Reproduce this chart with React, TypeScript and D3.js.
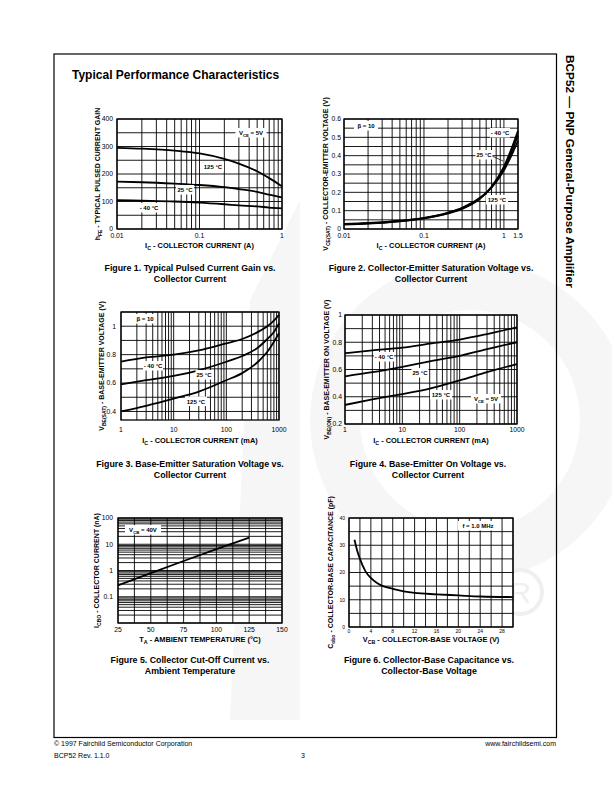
import React from "react";
import * as d3 from "d3";

// ---------- DATA ----------
// Figure 1: hFE vs Ic (A)
const f1X = [0.01, 0.02, 0.05, 0.1, 0.2, 0.3, 0.5, 0.7, 1];
const f1_125 = [295, 292, 285, 275, 255, 238, 210, 185, 155];
const f1_25 = [172, 170, 165, 160, 152, 145, 135, 125, 115];
const f1_m40 = [105, 103, 100, 96, 90, 86, 82, 78, 75];
const f1YTicks = [0, 100, 200, 300, 400];
const f1XTicks = [0.01, 0.1, 1];

// Figure 2: VCE(sat) vs Ic (A)
const f2X = [0.01, 0.02, 0.05, 0.1, 0.2, 0.3, 0.5, 0.7, 1, 1.3, 1.5];
const f2_m40 = [0.025, 0.03, 0.042, 0.058, 0.085, 0.11, 0.165, 0.23, 0.34, 0.46, 0.535];
const f2_25 = [0.026, 0.031, 0.043, 0.059, 0.087, 0.113, 0.168, 0.228, 0.33, 0.44, 0.51];
const f2_125 = [0.028, 0.033, 0.045, 0.061, 0.09, 0.116, 0.17, 0.225, 0.32, 0.42, 0.48];
const f2YTicks = [0, 0.1, 0.2, 0.3, 0.4, 0.5, 0.6];
const f2XTicks = [0.01, 0.1, 1, 1.5];

// Figure 3: VBE(sat) vs Ic (mA)
const f3X = [1, 3, 10, 30, 100, 200, 400, 600, 800, 1000];
const f3_m40 = [0.75, 0.78, 0.8, 0.83, 0.88, 0.91, 0.96, 1.0, 1.04, 1.08];
const f3_25 = [0.59, 0.62, 0.65, 0.69, 0.75, 0.79, 0.85, 0.91, 0.96, 1.02];
const f3_125 = [0.4, 0.44, 0.49, 0.54, 0.62, 0.67, 0.75, 0.82, 0.89, 0.95];
const f3YTicks = [0.4, 0.6, 0.8, 1];
const f3XTicks = [1, 10, 100, 1000];

// Figure 4: VBE(on) vs Ic (mA)
const f4X = [1, 3, 10, 30, 100, 300, 1000];
const f4_m40 = [0.72, 0.74, 0.76, 0.79, 0.82, 0.86, 0.91];
const f4_25 = [0.55, 0.58, 0.62, 0.66, 0.7, 0.75, 0.8];
const f4_125 = [0.34, 0.38, 0.42, 0.46, 0.52, 0.58, 0.64];
const f4YTicks = [0.2, 0.4, 0.6, 0.8, 1];
const f4XTicks = [1, 10, 100, 1000];

// Figure 5: ICBO vs TA
const f5X = [25, 50, 75, 100, 125];
const f5Y = [0.27, 0.8, 2.3, 6.5, 18];
const f5YTicks = [0.1, 1, 10, 100];
const f5XTicks = [25, 50, 75, 100, 125, 150];

// Figure 6: Cobo vs VCB
const f6X = [1, 1.5, 2, 3, 4, 5, 6, 8, 10, 12, 16, 20, 24, 30];
const f6Y = [32, 28, 25, 20.5, 18, 16.3, 15.2, 14, 13.1, 12.5, 12, 11.6, 11.2, 11];
const f6YTicks = [0, 10, 20, 30, 40];
const f6XTicks = [0, 4, 8, 12, 16, 20, 24, 28];

const captions = [
  ["Figure 1. Typical Pulsed Current Gain vs.", "Collector Current"],
  ["Figure 2. Collector-Emitter Saturation Voltage vs.", "Collector Current"],
  ["Figure 3. Base-Emitter Saturation Voltage vs.", "Collector Current"],
  ["Figure 4. Base-Emitter On Voltage vs.", "Collector Current"],
  ["Figure 5. Collector Cut-Off Current vs.", "Ambient Temperature"],
  ["Figure 6. Collector-Base Capacitance vs.", "Collector-Base Voltage"],
];

const FONT = "'Liberation Sans', Arial, Helvetica, sans-serif";

function logGrid(min: number, max: number): number[] {
  const out: number[] = [];
  let dec = Math.pow(10, Math.floor(Math.log10(min) + 1e-9));
  while (dec <= max) {
    for (let k = 1; k <= 9; k++) {
      const v = k * dec;
      if (v >= min - 1e-12 && v <= max + 1e-12) out.push(v);
    }
    dec *= 10;
  }
  return out;
}
function linGrid(min: number, max: number, step: number): number[] {
  const out: number[] = [];
  const n = Math.round((max - min) / step);
  for (let i = 0; i <= n; i++) out.push(min + i * step);
  return out;
}

// text with optional subscript: [main, sub, rest]
function SubText({ parts, fs }: { parts: string[]; fs: number }) {
  const sub = fs * 0.72;
  const dd = fs * 0.28;
  return (
    <>
      <tspan>{parts[0]}</tspan>
      {parts[1] ? (
        <tspan fontSize={sub} dy={dd}>
          {parts[1]}
        </tspan>
      ) : null}
      {parts[2] ? <tspan dy={parts[1] ? -dd : 0}>{parts[2]}</tspan> : null}
    </>
  );
}

type Lbl = { x: number; y: number; parts: string[]; w: number };

function Label({ x, y, parts, w }: Lbl) {
  return (
    <g>
      <rect x={x - w / 2} y={y - 5} width={w} height={9.5} fill="#fff" />
      <text x={x} y={y + 2.3} fontSize={6} fontWeight="bold" textAnchor="middle" fontFamily={FONT}>
        <SubText parts={parts} fs={6} />
      </text>
    </g>
  );
}

function Chart(props: {
  x: any;
  y: any;
  xGrid: number[];
  yGrid: number[];
  xTicks: number[];
  yTicks: number[];
  xFmt?: (v: number) => string;
  yFmt?: (v: number) => string;
  series: { xs: number[]; ys: number[] }[];
  yTitle: string[];
  yTitleX: number;
  xTitle: string[];
  xTitleY: number;
  labels: Lbl[];
  tickY: number;
  tickX: number;
  tickFs?: number;
  extra?: any;
}) {
  const { x, y } = props;
  const [x0, x1] = x.range();
  const [y0, y1] = y.range();
  const line = d3
    .line<[number, number]>()
    .x((d) => x(d[0]))
    .y((d) => y(d[1]))
    .curve(d3.curveMonotoneX);
  const cy = (y0 + y1) / 2;
  const cx = (x0 + x1) / 2;
  const xf = props.xFmt || ((v: number) => String(v));
  const yf = props.yFmt || ((v: number) => String(v));
  const tfs = props.tickFs || 6.8;
  return (
    <g fontFamily={FONT}>
      <rect x={x0} y={y1} width={x1 - x0} height={y0 - y1} fill="#fff" />
      {props.xGrid.map((v, i) => (
        <line key={"gx" + i} x1={x(v)} x2={x(v)} y1={y0} y2={y1} stroke="#000" strokeWidth={0.9} />
      ))}
      {props.yGrid.map((v, i) => (
        <line key={"gy" + i} x1={x0} x2={x1} y1={y(v)} y2={y(v)} stroke="#000" strokeWidth={0.9} />
      ))}
      <rect x={x0} y={y1} width={x1 - x0} height={y0 - y1} fill="none" stroke="#000" strokeWidth={1.3} />
      {props.series.map((s, i) => (
        <path
          key={"s" + i}
          d={line(s.xs.map((v, j) => [v, s.ys[j]] as [number, number])) || ""}
          fill="none"
          stroke="#000"
          strokeWidth={1.8}
        />
      ))}
      {props.extra}
      {props.labels.map((l, i) => (
        <Label key={"l" + i} {...l} />
      ))}
      {props.xTicks.map((v, i) => (
        <text key={"tx" + i} x={x(v)} y={props.tickY} fontSize={tfs} textAnchor="middle">
          {xf(v)}
        </text>
      ))}
      {props.yTicks.map((v, i) => (
        <text key={"ty" + i} x={props.tickX} y={y(v) + tfs * 0.35} fontSize={tfs} textAnchor="end">
          {yf(v)}
        </text>
      ))}
      <text
        transform={`translate(${props.yTitleX},${cy}) rotate(-90)`}
        fontSize={7}
        fontWeight="bold"
        textAnchor="middle"
      >
        <SubText parts={props.yTitle} fs={7} />
      </text>
      <text x={cx} y={props.xTitleY} fontSize={7.4} fontWeight="bold" textAnchor="middle">
        <SubText parts={props.xTitle} fs={7.4} />
      </text>
    </g>
  );
}

function Caption({ cx, y, lines }: { cx: number; y: number; lines: string[] }) {
  return (
    <text x={cx} y={y} fontSize={8.8} fontWeight="bold" textAnchor="middle" fontFamily={FONT}>
      <tspan x={cx}>{lines[0]}</tspan>
      <tspan x={cx} dy={11}>
        {lines[1]}
      </tspan>
    </text>
  );
}

export default function App() {
  // Scales
  const x1 = d3.scaleLog().domain([0.01, 1]).range([117, 282]);
  const y1 = d3.scaleLinear().domain([0, 400]).range([229, 119]);
  const x2 = d3.scaleLog().domain([0.01, 1.5]).range([344, 518]);
  const y2 = d3.scaleLinear().domain([0, 0.6]).range([229, 119]);
  const x3 = d3.scaleLog().domain([1, 1000]).range([121, 279]);
  const y3 = d3.scaleLinear().domain([0.34, 1.1]).range([420, 312]);
  const x4 = d3.scaleLog().domain([1, 1000]).range([345, 517]);
  const y4 = d3.scaleLinear().domain([0.2, 1]).range([424, 315]);
  const x5 = d3.scaleLinear().domain([25, 150]).range([118, 282]);
  const y5 = d3.scaleLog().domain([0.01, 100]).range([623, 518]);
  const x6 = d3.scaleLinear().domain([0, 30]).range([349, 513]);
  const y6 = d3.scaleLinear().domain([0, 40]).range([627, 518]);

  const deg = "\u00B0C";

  return (
    <svg
      width={612}
      height={792}
      viewBox="0 0 612 792"
      style={{ position: "absolute", left: 0, top: 0, background: "#fff" }}
    >
      <rect x={0} y={0} width={612} height={792} fill="#fff" />
      {/* watermark */}
      <g fill="#f6f6f6">
        <path d="M250 300 L300 200 L300 720 L230 720 Z" />
        <circle cx={470} cy={420} r={160} />
        <circle cx={470} cy={420} r={110} fill="#fff" />
        <circle cx={520} cy={592} r={22} fill="none" stroke="#efefef" strokeWidth={4} />
        <text x={520} y={603} fontSize={30} textAnchor="middle" fill="#efefef" fontFamily={FONT}>
          R
        </text>
      </g>
      {/* page frame */}
      <rect x={54} y={54} width={502.5} height={683.5} fill="none" stroke="#000" strokeWidth={1.2} />
      <text x={72} y={79} fontSize={12} fontWeight="bold" fontFamily={FONT}>
        Typical Performance Characteristics
      </text>
      <text
        transform="translate(566,55) rotate(90)"
        fontSize={11.8}
        fontWeight="bold"
        fontFamily={FONT}
      >
        BCP52 — PNP General-Purpose Amplifier
      </text>

      <Chart
        x={x1}
        y={y1}
        xGrid={logGrid(0.01, 1)}
        yGrid={linGrid(0, 400, 50)}
        xTicks={f1XTicks}
        yTicks={f1YTicks}
        series={[
          { xs: f1X, ys: f1_125 },
          { xs: f1X, ys: f1_25 },
          { xs: f1X, ys: f1_m40 },
        ]}
        yTitle={["h", "FE", " - TYPICAL PULSED CURRENT GAIN"]}
        yTitleX={100}
        xTitle={["I", "C", " - COLLECTOR CURRENT  (A)"]}
        xTitleY={248}
        tickY={238}
        tickX={113}
        labels={[
          { x: 251, y: 133, parts: ["V", "CE", " = 5V"], w: 31 },
          { x: 213, y: 167, parts: ["125 " + deg], w: 22 },
          { x: 185, y: 190, parts: ["25 " + deg], w: 18 },
          { x: 149, y: 208, parts: ["- 40 " + deg], w: 20 },
        ]}
      />

      <Chart
        x={x2}
        y={y2}
        xGrid={logGrid(0.01, 1).concat([1.5])}
        yGrid={linGrid(0, 0.6, 0.05)}
        xTicks={f2XTicks}
        yTicks={f2YTicks}
        series={[
          { xs: f2X, ys: f2_m40 },
          { xs: f2X, ys: f2_25 },
          { xs: f2X, ys: f2_125 },
        ]}
        yTitle={["V", "CE(SAT)", " - COLLECTOR-EMITTER VOLTAGE (V)"]}
        yTitleX={328}
        xTitle={["I", "C", " - COLLECTOR CURRENT  (A)"]}
        xTitleY={248}
        tickY={238}
        tickX={341}
        labels={[
          { x: 366, y: 126, parts: ["\u03B2 = 10"], w: 24 },
          { x: 500, y: 133, parts: ["- 40 " + deg], w: 20 },
          { x: 484, y: 155, parts: ["25 " + deg], w: 17 },
          { x: 497, y: 200, parts: ["125 " + deg], w: 22 },
        ]}
        extra={<line x1={492} y1={156} x2={503} y2={161} stroke="#000" strokeWidth={0.7} />}
      />

      <Chart
        x={x3}
        y={y3}
        xGrid={logGrid(1, 1000)}
        yGrid={linGrid(0.4, 1.1, 0.1)}
        xTicks={f3XTicks}
        yTicks={f3YTicks}
        series={[
          { xs: f3X, ys: f3_m40 },
          { xs: f3X, ys: f3_25 },
          { xs: f3X, ys: f3_125 },
        ]}
        yTitle={["V", "BE(SAT)", " - BASE-EMITTER VOLTAGE (V)"]}
        yTitleX={104}
        xTitle={["I", "C", " - COLLECTOR CURRENT  (mA)"]}
        xTitleY={443}
        tickY={432}
        tickX={116}
        labels={[
          { x: 145, y: 319, parts: ["\u03B2 = 10"], w: 24 },
          { x: 153, y: 366, parts: ["- 40 " + deg], w: 20 },
          { x: 204, y: 375, parts: ["25 " + deg], w: 17 },
          { x: 196, y: 401.5, parts: ["125 " + deg], w: 22 },
        ]}
      />

      <Chart
        x={x4}
        y={y4}
        xGrid={logGrid(1, 1000)}
        yGrid={linGrid(0.2, 1, 0.1)}
        xTicks={f4XTicks}
        yTicks={f4YTicks}
        series={[
          { xs: f4X, ys: f4_m40 },
          { xs: f4X, ys: f4_25 },
          { xs: f4X, ys: f4_125 },
        ]}
        yTitle={["V", "BE(ON)", " - BASE-EMITTER ON VOLTAGE (V)"]}
        yTitleX={329}
        xTitle={["I", "C", " - COLLECTOR CURRENT  (mA)"]}
        xTitleY={443}
        tickY={432}
        tickX={342}
        labels={[
          { x: 384, y: 357, parts: ["- 40 " + deg], w: 20 },
          { x: 420, y: 373, parts: ["25 " + deg], w: 17 },
          { x: 441, y: 395, parts: ["125 " + deg], w: 22 },
          { x: 486, y: 399, parts: ["V", "CE", " = 5V"], w: 30 },
        ]}
      />

      <Chart
        x={x5}
        y={y5}
        xGrid={linGrid(25, 150, 12.5)}
        yGrid={logGrid(0.01, 100)}
        xTicks={f5XTicks}
        yTicks={f5YTicks}
        series={[{ xs: f5X, ys: f5Y }]}
        yTitle={["I", "CBO", " - COLLECTOR CURRENT (nA)"]}
        yTitleX={99}
        xTitle={["T", "A", " - AMBIENT TEMPERATURE (\u00B0C)"]}
        xTitleY={642}
        tickY={632}
        tickX={113}
        labels={[{ x: 143, y: 530, parts: ["V", "CB", " = 40V"], w: 36 }]}
      />

      <Chart
        x={x6}
        y={y6}
        xGrid={linGrid(0, 30, 2)}
        yGrid={linGrid(0, 40, 5)}
        xTicks={f6XTicks}
        yTicks={f6YTicks}
        tickFs={5}
        series={[{ xs: f6X, ys: f6Y }]}
        yTitle={["C", "obo", " - COLLECTOR-BASE CAPACITANCE (pF)"]}
        yTitleX={333}
        xTitle={["V", "CB", " - COLLECTOR-BASE VOLTAGE (V)"]}
        xTitleY={642}
        tickY={633}
        tickX={345}
        labels={[{ x: 478, y: 526, parts: ["f = 1.0 MHz"], w: 40 }]}
      />

      <Caption cx={190} y={271} lines={captions[0]} />
      <Caption cx={431} y={271} lines={captions[1]} />
      <Caption cx={190} y={467} lines={captions[2]} />
      <Caption cx={428} y={467} lines={captions[3]} />
      <Caption cx={190} y={663} lines={captions[4]} />
      <Caption cx={429} y={663} lines={captions[5]} />

      <g fontFamily={FONT} fontSize={7}>
        <text x={54} y={746}>
          © 1997 Fairchild Semiconductor Corporation
        </text>
        <text x={556} y={746} textAnchor="end">
          www.fairchildsemi.com
        </text>
        <text x={54} y={758}>
          BCP52 Rev. 1.1.0
        </text>
        <text x={303} y={758} textAnchor="middle">
          3
        </text>
      </g>
    </svg>
  );
}
